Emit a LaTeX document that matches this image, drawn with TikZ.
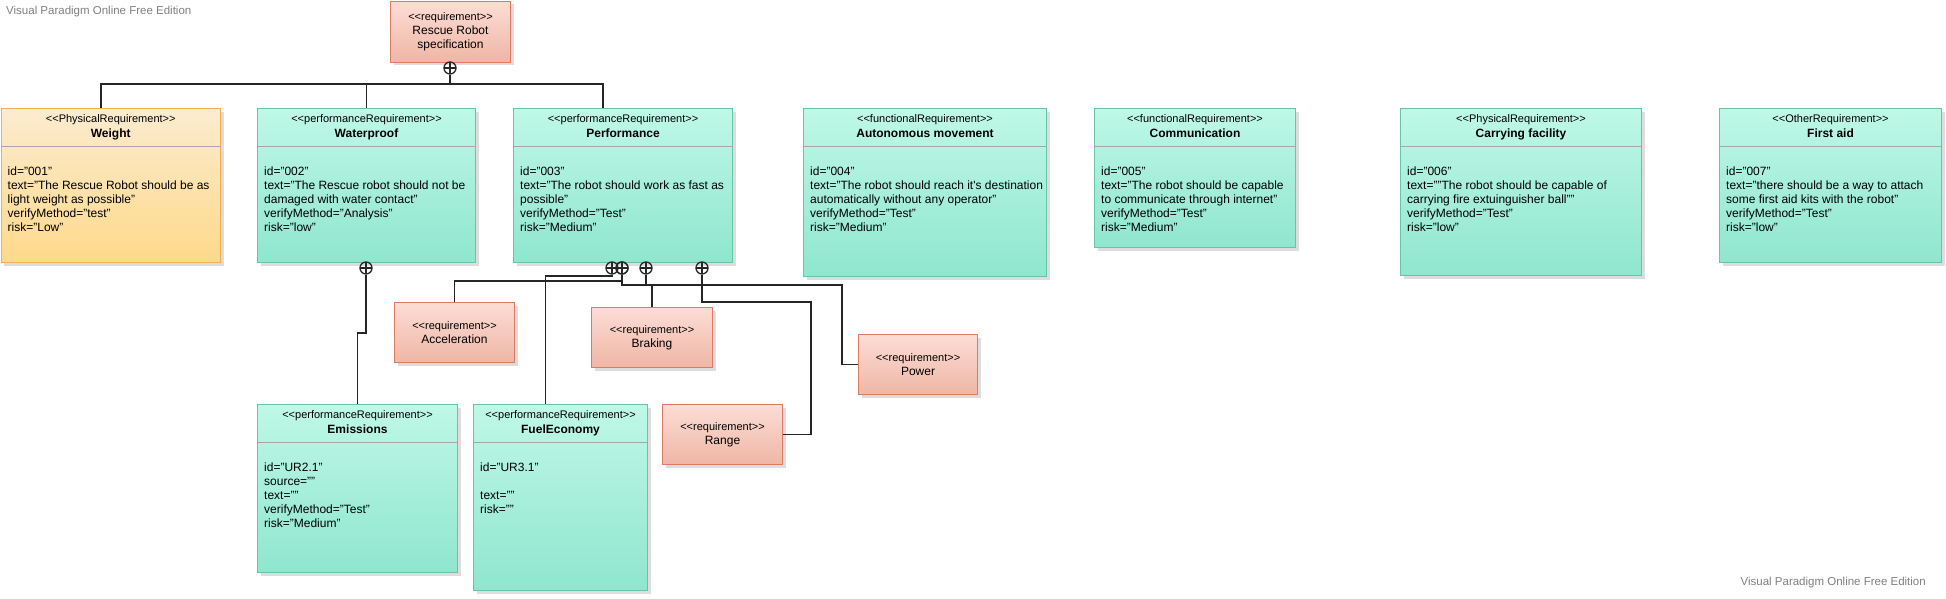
\documentclass[tikz,border=0pt]{standalone}
\usepackage{fontspec}
\setmainfont{Liberation Sans}
\usetikzlibrary{shadows}
\definecolor{tealtop}{HTML}{BFF8E7}
\definecolor{tealbot}{HTML}{8FE6CE}
\definecolor{tealline}{HTML}{67C4A6}
\definecolor{salmtop}{HTML}{FCDDD5}
\definecolor{salmbot}{HTML}{EFB6A6}
\definecolor{salmline}{HTML}{E07B63}
\definecolor{goldtop}{HTML}{FCEBCF}
\definecolor{goldbot}{HTML}{FDD98A}
\definecolor{goldline}{HTML}{F2B14C}
\definecolor{sepgray}{HTML}{A6A6A6}
\definecolor{markgray}{HTML}{808080}
\tikzstyle{boxshadow} = [drop shadow={shadow xshift=3pt, shadow yshift=-3pt,
    fill=black!60, opacity=0.22}]
\tikzstyle{greenbox} = [rectangle, draw=tealline, line width=1pt, top color=tealtop,
    bottom color=tealbot, anchor=north west, inner sep=0pt, boxshadow]
\tikzstyle{goldbox} = [rectangle, draw=goldline, line width=1pt, top color=goldtop,
    bottom color=goldbot, anchor=north west, inner sep=0pt, boxshadow]
\tikzstyle{reqbox} = [rectangle, draw=salmline, line width=1pt, top color=salmtop,
    bottom color=salmbot, anchor=north west, inner sep=0pt, minimum width=120pt,
    minimum height=60pt, align=center, font=\fontsize{12}{14}\selectfont, boxshadow]
\tikzstyle{stereo} = [anchor=base, inner sep=0pt, font=\fontsize{11}{13}\selectfont]
\tikzstyle{reqtitle} = [anchor=base, inner sep=0pt, font=\fontsize{12}{14}\selectfont\bfseries]
\tikzstyle{reqbody} = [anchor=north west, inner sep=0pt, align=left,
    font=\fontsize{12}{14}\selectfont]
\tikzstyle{link} = [draw=black!85, line width=1.6pt]
\tikzstyle{owns} = [circle, draw=black!85, line width=1.3pt, minimum size=12pt, inner sep=0pt,
    path picture={\draw[black!85, line width=1.3pt]
        (path picture bounding box.north) -- (path picture bounding box.south)
        (path picture bounding box.west) -- (path picture bounding box.east);}]
\tikzstyle{watermark} = [inner sep=0pt, text=markgray, font=\fontsize{11.5}{13}\selectfont]
\newcommand{\sterlabel}[1]{{\fontsize{11}{13}\selectfont <{}<#1>{}>}}
% class box: name, style, x, y, width, height, stereotype, title, body
\newcommand{\reqclass}[9]{%
  \node[#2, minimum width=#5pt, minimum height=#6pt] (#1) at (#3,#4) {};
  \draw[sepgray, line width=1pt] ([yshift=-38pt]#1.north west) -- ([yshift=-38pt]#1.north east);
  \node[stereo] (#1-st) at ([yshift=-14pt]#1.north) {<{}<#7>{}>};
  \node[reqtitle] (#1-ti) at ([yshift=-29pt]#1.north) {#8};
  \node[reqbody] (#1-bd) at ([xshift=7pt,yshift=-59pt]#1.north west) {#9};
}

\begin{document}
\begin{tikzpicture}[x=1pt, y=-1pt]
\useasboundingbox (0,0) rectangle (1946,598);

\node[watermark, anchor=west] (wm-top) at (6,12) {Visual Paradigm Online Free Edition};
\node[watermark, anchor=east] (wm-bot) at (1926,583) {Visual Paradigm Online Free Edition};

\node[reqbox, minimum height=61pt] (spec) at (390,0.5)
    {\sterlabel{requirement}\\Rescue Robot\\specification};

\reqclass{weight}{goldbox}{0.5}{108}{219.5}{154}{PhysicalRequirement}{Weight}
  {id="001"\\text="The Rescue Robot should be as\\light weight as possible"\\verifyMethod="test"\\risk="Low"}
\reqclass{waterproof}{greenbox}{257}{108}{218}{154}{performanceRequirement}{Waterproof}
  {id="002"\\text="The Rescue robot should not be\\damaged with water contact"\\verifyMethod="Analysis"\\risk="low"}
\reqclass{performance}{greenbox}{513}{108}{219}{154}{performanceRequirement}{Performance}
  {id="003"\\text="The robot should work as fast as\\possible"\\verifyMethod="Test"\\risk="Medium"}
\reqclass{autonomous}{greenbox}{803}{108}{243}{168}{functionalRequirement}{Autonomous movement}
  {id="004"\\text="The robot should reach it\textquotesingle s destination\\automatically without any operator"\\verifyMethod="Test"\\risk="Medium"}
\reqclass{communication}{greenbox}{1094}{108}{201}{139}{functionalRequirement}{Communication}
  {id="005"\\text="The robot should be capable\\to communicate through internet"\\verifyMethod="Test"\\risk="Medium"}
\reqclass{carrying}{greenbox}{1400}{108}{241}{167}{PhysicalRequirement}{Carrying facility}
  {id="006"\\text=""The robot should be capable of\\carrying fire extuinguisher ball""\\verifyMethod="Test"\\risk="low"}
\reqclass{firstaid}{greenbox}{1719}{108}{222}{154}{OtherRequirement}{First aid}
  {id="007"\\text="there should be a way to attach\\some first aid kits with the robot"\\verifyMethod="Test"\\risk="low"}
\reqclass{emissions}{greenbox}{257}{404}{200}{168}{performanceRequirement}{Emissions}
  {id="UR2.1"\\source=""\\text=""\\verifyMethod="Test"\\risk="Medium"}
\reqclass{fueleconomy}{greenbox}{473}{404}{174}{186}{performanceRequirement}{FuelEconomy}
  {id="UR3.1"\\\mbox{}\\text=""\\risk=""}

\node[reqbox] (acceleration) at (394,302) {\sterlabel{requirement}\\Acceleration};
\node[reqbox, minimum width=121pt] (braking) at (591,307) {\sterlabel{requirement}\\Braking};
\node[reqbox, minimum width=119pt] (power) at (858,334) {\sterlabel{requirement}\\Power};
\node[reqbox] (range) at (662,404) {\sterlabel{requirement}\\Range};

% containment marks
\node[owns] (o-spec) at (450,68) {};
\node[owns] (o-wp) at (366,268) {};
\node[owns] (o-fe) at (612,268) {};
\node[owns] (o-acc) at (622,268) {};
\node[owns] (o-pw) at (622,268) {};
\node[owns] (o-br) at (646,268) {};
\node[owns] (o-rg) at (702,268) {};

\coordinate (bus) at (450,84);
\draw[link] (o-spec) -- (bus);
\draw[link] ([xshift=-10pt]weight.north) |- (bus) -| ([xshift=-20pt]performance.north);
\draw[link] (waterproof.north) -- (waterproof.north |- bus);

\draw[link] (o-wp) -- ++(0,65) -| (emissions.north);
\draw[link] (o-fe) -- ++(0,8) -| ([xshift=-15pt]fueleconomy.north);
\draw[link] (o-acc) -- ++(0,13) -| (acceleration.north);
\draw[link] (o-pw) -- ++(0,17) -| ([xshift=-16pt]power.west) -- (power.west);
\draw[link] (o-br) -- ++(0,17) -| (braking.north);
\draw[link] (o-rg) -- ++(0,34) -| ([xshift=28pt]range.east) -- (range.east);
\end{tikzpicture}
\end{document}
